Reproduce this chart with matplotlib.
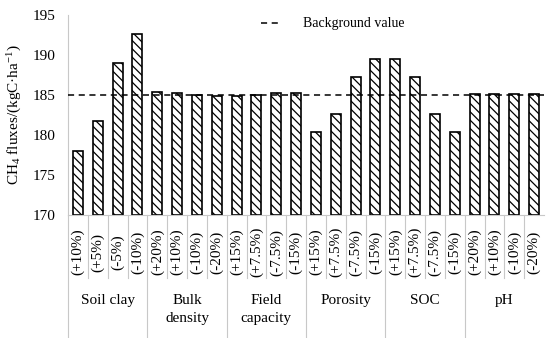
import numpy as np
import matplotlib
matplotlib.use("Agg")
import matplotlib.pyplot as plt
import matplotlib.transforms as mtransforms

plt.rcParams['font.family'] = ['Liberation Serif', 'DejaVu Serif']
plt.rcParams['mathtext.fontset'] = 'custom'
plt.rcParams['mathtext.rm'] = 'Liberation Serif'
plt.rcParams['mathtext.it'] = 'Liberation Serif:italic'
plt.rcParams['hatch.linewidth'] = 0.9

# data
groups = ['Soil clay', 'Bulk\ndensity', 'Field\ncapacity', 'Porosity', 'SOC', 'pH']
levels = ['(+10%)', '(+5%)', '(-5%)', '(-10%)',
          '(+20%)', '(+10%)', '(-10%)', '(-20%)',
          '(+15%)', '(+7.5%)', '(-7.5%)', '(-15%)',
          '(+15%)', '(+7.5%)', '(-7.5%)', '(-15%)',
          '(+15%)', '(+7.5%)', '(-7.5%)', '(-15%)',
          '(+20%)', '(+10%)', '(-10%)', '(-20%)']
fluxes = [178.0, 181.8, 189.0, 192.6,
          185.4, 185.25, 185.0, 184.9,
          184.9, 185.0, 185.2, 185.3,
          180.4, 182.6, 187.2, 189.5,
          189.5, 187.2, 182.6, 180.4,
          185.1, 185.1, 185.1, 185.1]
background = 185.0

fig = plt.figure(figsize=(5.5, 3.38), dpi=100)
ax = fig.add_axes([68/550, 1-215/338, 476/550, 200/338])

x = np.arange(len(fluxes))
ax.bar(x, np.array(fluxes) - 170, bottom=170, width=0.5, color='white',
       edgecolor='black', linewidth=1.2, hatch='\\\\\\\\', zorder=2)
ax.axhline(background, color='black', linestyle=(0, (4, 3)), linewidth=1.1,
           label='Background value', zorder=3)

ax.set_xlim(-0.5, len(fluxes) - 0.5)
ax.set_ylim(170, 195)
ax.set_yticks(np.arange(170, 196, 5))
ax.tick_params(axis='y', length=0, pad=9, labelsize=11)
ax.set_xticks([])
for s in ['top', 'right']:
    ax.spines[s].set_visible(False)
for s in ['left', 'bottom']:
    ax.spines[s].set_color('#c8c8c8')
    ax.spines[s].set_linewidth(0.8)

ax.set_ylabel('CH$_4$ fluxes/(kgC·ha$^{-1}$)', fontsize=11, labelpad=6)

# category axis below the plot
trans = mtransforms.blended_transform_factory(ax.transData, ax.transAxes)
for i, lab in enumerate(levels):
    ax.text(i, -0.185, lab, rotation=90, ha='center', va='center',
            fontsize=11, transform=trans)
    if i > 0 and i % 4 != 0:
        ax.plot([i - 0.5, i - 0.5], [0, -0.315], color='#c8c8c8', lw=0.8,
                transform=trans, clip_on=False)
for g, name in enumerate(groups):
    ax.text(g * 4 + 1.5, -0.395, name, ha='center', va='top', fontsize=11,
            linespacing=1.5, transform=trans)
    ax.plot([g * 4 - 0.5, g * 4 - 0.5], [0, -0.61], color='#c8c8c8', lw=0.8,
            transform=trans, clip_on=False)

ax.legend(loc='center left', bbox_to_anchor=(0.38, 0.955), frameon=False,
          fontsize=10, handlelength=1.4, handletextpad=1.6)

fig.savefig('out.png', dpi=100)
